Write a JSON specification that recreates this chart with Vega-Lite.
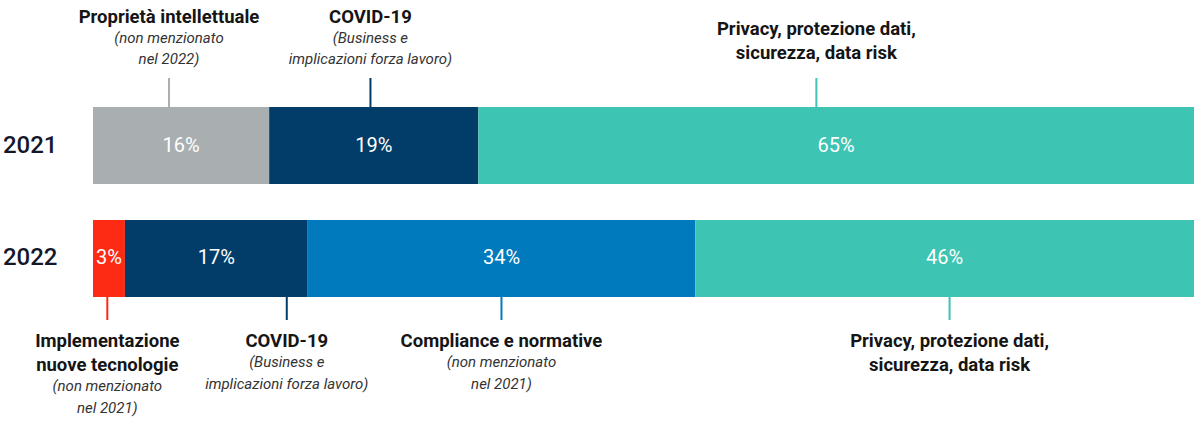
{
  "$schema": "https://vega.github.io/schema/vega-lite/v6.json",
  "width": 1101,
  "height": 404,
  "autosize": {"type": "none"},
  "padding": {"left": 93, "top": 0, "right": 6, "bottom": 20},
  "background": "white",
  "config": {"view": {"stroke": null}},
  "datasets": {
    "seg": [
      {"year": "2021", "cat": "Proprietà intellettuale", "value": 16, "label": "16%", "ord": 1},
      {"year": "2021", "cat": "COVID-19", "value": 19, "label": "19%", "ord": 2},
      {"year": "2021", "cat": "Privacy", "value": 65, "label": "65%", "ord": 3},
      {"year": "2022", "cat": "Implementazione", "value": 2.9, "label": "3%", "ord": 1},
      {"year": "2022", "cat": "COVID-19", "value": 16.6, "label": "17%", "ord": 2},
      {"year": "2022", "cat": "Compliance", "value": 35.2, "label": "34%", "ord": 3},
      {"year": "2022", "cat": "Privacy", "value": 45.3, "label": "46%", "ord": 4}
    ],
    "ann": [
      {"year": "2021", "cat": "Proprietà intellettuale", "anchor": 6.9, "nl": 1, "title": ["Proprietà intellettuale"], "sub": ["(non menzionato", "nel 2022)"]},
      {"year": "2021", "cat": "COVID-19", "anchor": 25.2, "nl": 1, "title": ["COVID-19"], "sub": ["(Business e", "implicazioni forza lavoro)"]},
      {"year": "2021", "cat": "Privacy", "anchor": 65.7, "nl": 2, "title": ["Privacy, protezione dati,", "sicurezza, data risk"], "sub": [""]},
      {"year": "2022", "cat": "Implementazione", "anchor": 1.3, "nl": 2, "title": ["Implementazione", "nuove tecnologie"], "sub": ["(non menzionato", "nel 2021)"]},
      {"year": "2022", "cat": "COVID-19", "anchor": 17.6, "nl": 1, "title": ["COVID-19"], "sub": ["(Business e", "implicazioni forza lavoro)"]},
      {"year": "2022", "cat": "Compliance", "anchor": 37.1, "nl": 1, "title": ["Compliance e normative"], "sub": ["(non menzionato", "nel 2021)"]},
      {"year": "2022", "cat": "Privacy", "anchor": 77.8, "nl": 2, "title": ["Privacy, protezione dati,", "sicurezza, data risk"], "sub": [""]}
    ]
  },
  "layer": [
    {
      "data": {"name": "seg"},
      "transform": [
        {"stack": "value", "groupby": ["year"], "sort": [{"field": "ord", "order": "ascending"}], "as": ["x0", "x1"]}
      ],
      "mark": {"type": "bar"},
      "encoding": {
        "y": {
          "field": "year", "type": "nominal", "title": null,
          "scale": {"paddingInner": 0.3186, "paddingOuter": 0.947},
          "axis": {"domain": false, "ticks": false, "labelAlign": "right", "labelPadding": 36, "labelFontSize": 24, "labelFont": "Roboto", "labelFontWeight": 500, "labelColor": "#15172a"}
        },
        "x": {"field": "x0", "type": "quantitative", "scale": {"domain": [0, 100], "nice": false, "zero": true}, "axis": null},
        "x2": {"field": "x1"},
        "color": {
          "field": "cat", "type": "nominal", "legend": null,
          "scale": {
            "domain": ["Proprietà intellettuale", "COVID-19", "Privacy", "Implementazione", "Compliance"],
            "range": ["#a9aeb0", "#023d69", "#3ec4b2", "#fd2a14", "#0079bd"]
          }
        }
      }
    },
    {
      "data": {"name": "seg"},
      "transform": [
        {"stack": "value", "groupby": ["year"], "sort": [{"field": "ord", "order": "ascending"}], "as": ["x0", "x1"]},
        {"calculate": "(datum.x0 + datum.x1) / 2", "as": "mid"}
      ],
      "mark": {"type": "text", "color": "white", "font": "Roboto", "fontSize": 20, "baseline": "middle", "align": "center"},
      "encoding": {
        "y": {"field": "year", "type": "nominal"},
        "x": {"field": "mid", "type": "quantitative"},
        "text": {"field": "label"}
      }
    },
    {
      "data": {"name": "ann"},
      "transform": [{"filter": "datum.year == '2021'"}],
      "mark": {"type": "tick", "thickness": 2, "size": 29, "yOffset": -53, "opacity": 1},
      "encoding": {
        "y": {"field": "year", "type": "nominal"},
        "x": {"field": "anchor", "type": "quantitative"},
        "color": {"field": "cat", "type": "nominal"}
      }
    },
    {
      "data": {"name": "ann"},
      "transform": [{"filter": "datum.year == '2022'"}],
      "mark": {"type": "tick", "thickness": 2, "size": 23, "yOffset": 50, "opacity": 1},
      "encoding": {
        "y": {"field": "year", "type": "nominal"},
        "x": {"field": "anchor", "type": "quantitative"},
        "color": {"field": "cat", "type": "nominal"}
      }
    },
    {
      "data": {"name": "ann"},
      "transform": [{"filter": "datum.year == '2021' && datum.nl == 1"}],
      "mark": {"type": "text", "font": "Roboto", "fontWeight": "bold", "fontSize": 18.5, "color": "#151515", "align": "center", "baseline": "alphabetic", "dy": -123, "lineHeight": 24},
      "encoding": {
        "y": {"field": "year", "type": "nominal"},
        "x": {"field": "anchor", "type": "quantitative"},
        "text": {"field": "title"}
      }
    },
    {
      "data": {"name": "ann"},
      "transform": [{"filter": "datum.year == '2021' && datum.nl == 2"}],
      "mark": {"type": "text", "font": "Roboto", "fontWeight": "bold", "fontSize": 18.5, "color": "#151515", "align": "center", "baseline": "alphabetic", "dy": -111, "lineHeight": 24},
      "encoding": {
        "y": {"field": "year", "type": "nominal"},
        "x": {"field": "anchor", "type": "quantitative"},
        "text": {"field": "title"}
      }
    },
    {
      "data": {"name": "ann"},
      "transform": [{"filter": "datum.year == '2021' && datum.nl == 1"}],
      "mark": {"type": "text", "font": "Roboto", "fontStyle": "italic", "fontSize": 15, "color": "#333333", "align": "center", "baseline": "alphabetic", "dy": -103, "lineHeight": 21.5},
      "encoding": {
        "y": {"field": "year", "type": "nominal"},
        "x": {"field": "anchor", "type": "quantitative"},
        "text": {"field": "sub"}
      }
    },
    {
      "data": {"name": "ann"},
      "transform": [{"filter": "datum.year == '2022'"}],
      "mark": {"type": "text", "font": "Roboto", "fontWeight": "bold", "fontSize": 18.5, "color": "#151515", "align": "center", "baseline": "alphabetic", "dy": 89, "lineHeight": 24},
      "encoding": {
        "y": {"field": "year", "type": "nominal"},
        "x": {"field": "anchor", "type": "quantitative"},
        "text": {"field": "title"}
      }
    },
    {
      "data": {"name": "ann"},
      "transform": [{"filter": "datum.year == '2022' && datum.nl == 1"}],
      "mark": {"type": "text", "font": "Roboto", "fontStyle": "italic", "fontSize": 15, "color": "#333333", "align": "center", "baseline": "alphabetic", "dy": 109, "lineHeight": 21.5},
      "encoding": {
        "y": {"field": "year", "type": "nominal"},
        "x": {"field": "anchor", "type": "quantitative"},
        "text": {"field": "sub"}
      }
    },
    {
      "data": {"name": "ann"},
      "transform": [{"filter": "datum.year == '2022' && datum.nl == 2"}],
      "mark": {"type": "text", "font": "Roboto", "fontStyle": "italic", "fontSize": 15, "color": "#333333", "align": "center", "baseline": "alphabetic", "dy": 133, "lineHeight": 21.5},
      "encoding": {
        "y": {"field": "year", "type": "nominal"},
        "x": {"field": "anchor", "type": "quantitative"},
        "text": {"field": "sub"}
      }
    }
  ]
}
